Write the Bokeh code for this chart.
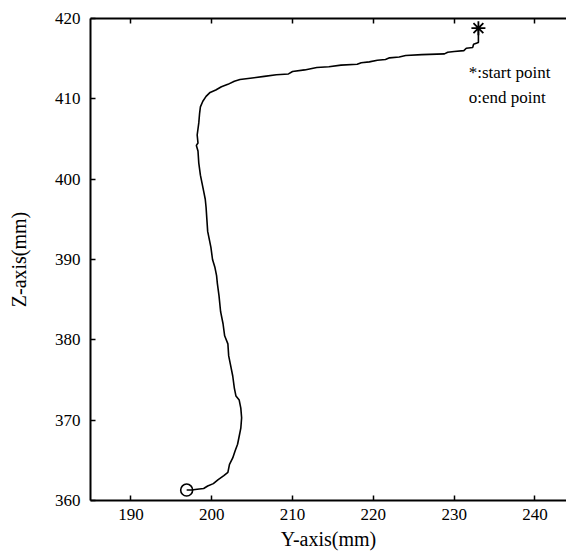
from bokeh.plotting import figure
from bokeh.models import LinearAxis, FixedTicker, Range1d, Label, CustomJSTickFormatter
from bokeh.embed import file_html
from bokeh.resources import INLINE

# Trajectory (Y-axis, Z-axis) in mm, from start point to end point
traj_y = [233.0, 233.0, 232.4, 232.3, 231.5, 231.2, 230.0, 229.2, 228.8, 226.0,
          224.0, 223.2, 222.0, 221.5, 220.5, 219.5, 218.5, 218.0, 216.0, 214.5,
          213.0, 211.5, 210.0, 209.5, 208.0, 206.5, 205.0, 203.5, 202.8, 202.0,
          201.2, 200.5, 199.8, 199.3, 198.9, 198.6, 198.5, 198.4, 198.2, 198.3,
          198.1, 198.3, 198.4, 198.6, 198.8, 199.0, 199.2, 199.3, 199.4, 199.5,
          199.7, 199.9, 200.1, 200.4, 200.6, 200.7, 200.9, 201.1, 201.4, 201.6,
          202.0, 202.1, 202.3, 202.6, 202.8, 203.0, 203.4, 203.6, 203.7, 203.6,
          203.4, 203.2, 202.9, 202.6, 202.2, 202.0, 201.5, 200.8, 200.2, 199.5,
          199.0, 198.2, 197.5, 196.9]
traj_z = [418.8, 417.0, 416.8, 416.4, 416.3, 416.0, 415.9, 415.8, 415.6, 415.5,
          415.4, 415.2, 415.1, 414.9, 414.8, 414.6, 414.5, 414.3, 414.2, 414.0,
          413.9, 413.6, 413.4, 413.1, 413.0, 412.8, 412.6, 412.4, 412.2, 411.8,
          411.5, 411.1, 410.8, 410.3, 409.7, 409.0, 408.2, 407.0, 405.5, 404.5,
          404.2, 403.5, 402.0, 400.5, 399.5, 398.5, 397.5, 396.5, 395.0, 393.5,
          392.5, 391.5, 390.0, 389.0, 388.0, 387.0, 385.5, 383.5, 382.0, 380.5,
          379.5, 378.0, 377.0, 375.5, 374.0, 373.0, 372.5, 371.5, 370.3, 369.0,
          368.0, 367.0, 366.2, 365.3, 364.5, 363.5, 363.1, 362.6, 362.1, 361.8,
          361.5, 361.4, 361.3, 361.3]

start_y, start_z = [233.0], [418.8]
end_y, end_z = [196.9], [361.3]

x_ticks = [190, 200, 210, 220, 230, 240]
z_ticks = [360, 370, 380, 390, 400, 410, 420]
annotation_lines = ["*:start point", "o:end point"]
x_title = "Y-axis(mm)"
y_title = "Z-axis(mm)"

FONT = "Liberation Serif"

p = figure(width=566, height=559, output_backend="svg", toolbar_location=None,
           x_range=Range1d(185, 243.9), y_range=Range1d(360, 420),
           min_border_left=90, min_border_right=0, min_border_top=18,
           min_border_bottom=59)
p.grid.visible = False
p.outline_line_color = None
p.background_fill_color = "white"
p.border_fill_color = "white"

for ax in (p.xaxis[0], p.yaxis[0]):
    ax.axis_line_color = "black"
    ax.axis_line_width = 2
    ax.major_tick_in = 5
    ax.major_tick_out = 0
    ax.minor_tick_line_color = None
    ax.major_tick_line_width = 1.5
    ax.major_label_text_font = FONT
    ax.major_label_text_font_size = "17px"
    ax.major_label_text_color = "black"
    ax.axis_label_text_font = FONT
    ax.axis_label_text_font_size = "20px"
    ax.axis_label_text_font_style = "normal"
    ax.axis_label_text_color = "black"

p.xaxis[0].ticker = FixedTicker(ticks=x_ticks)
p.yaxis[0].ticker = FixedTicker(ticks=z_ticks)
p.xaxis[0].axis_label = x_title
p.yaxis[0].axis_label = y_title
p.xaxis[0].major_label_standoff = 8
p.xaxis[0].axis_label_standoff = 5
p.yaxis[0].major_label_standoff = 10
p.yaxis[0].axis_label_standoff = 22

top = LinearAxis(ticker=FixedTicker(ticks=x_ticks),
                 formatter=CustomJSTickFormatter(code="return ''"))
top.axis_line_color = "black"
top.axis_line_width = 2
top.major_tick_in = 5
top.major_tick_out = 0
top.major_tick_line_width = 1.5
top.minor_tick_line_color = None
top.major_label_standoff = 0
p.add_layout(top, "above")

p.line(traj_y, traj_z, line_color="black", line_width=1.6)
p.scatter(start_y, start_z, marker="asterisk", size=14, line_color="black",
          line_width=1.8)
p.scatter(end_y, end_z, marker="circle", size=12, fill_color=None,
          line_color="black", line_width=1.6)

for i, txt in enumerate(annotation_lines):
    p.add_layout(Label(x=231.8, y=413.3 - 3.1 * i, text=txt, text_font=FONT,
                       text_font_size="17px", text_color="black",
                       text_baseline="middle", text_align="left"))

open("out.html", "w").write(file_html(p, INLINE))
